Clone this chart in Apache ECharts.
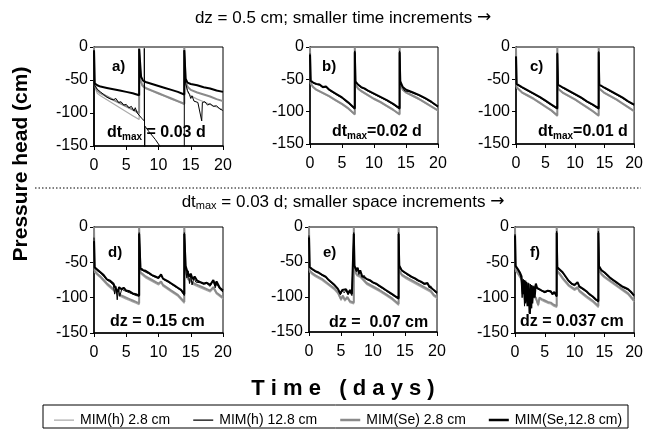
<!DOCTYPE html>
<html>
<head>
<meta charset="utf-8">
<script src="https://cdn.jsdelivr.net/npm/echarts@6/dist/echarts.min.js"></script>
<style>
  html, body { margin: 0; padding: 0; background: #fff; }
  #chart { width: 646px; height: 434px; }
</style>
</head>
<body>
<div id="chart"></div>
<script>
// legend names, panel tags, axis ranges
const seriesNames = ['MIM(h) 2.8 cm', 'MIM(h) 12.8 cm', 'MIM(Se) 2.8 cm', 'MIM(Se,12.8 cm)'];
const panelTags = ['a)', 'b)', 'c)', 'd)', 'e)', 'f)'];
const dayRange = [0, 20, 5];
const headRange = [-150, 0, 50];

// panel a) dz = 0.5 cm, dtmax = 0.03 d   [day, pressure head cm]
const aH28 = [[0,0],[0.1,-60],[0.5,-70],[1,-74],[2,-80],[3,-86],[4,-92],[5,-98],[6,-104],[7,-110],[7,0],[7.2,-52],[7.5,-60],[8,-63],[9,-67],[10,-71],[11,-75],[12,-79],[13,-83],[14,-87],[14,0],[14.2,-56],[14.5,-68],[15,-74],[16,-79],[17,-83],[18,-87],[19,-91],[20,-95]];
const aH128 = [[0,-150],[0,-8],[0.1,-58],[0.5,-64],[1,-68],[1.5,-72],[2,-76],[2.3,-74],[2.6,-79],[3,-80],[3.4,-78],[3.8,-84],[4.2,-83],[4.6,-88],[5,-87],[5.4,-92],[5.8,-90],[6.2,-97],[6.4,-92],[6.7,-100],[7,-103],[7.4,-108],[7.8,-112],[7.8,-2],[7.85,-170],[7.9,-120],[8.5,-128],[9.5,-140],[10.2,-150],[11,-160],[14,-175],[14,-5],[14.2,-55],[14.5,-66],[14.8,-72],[15,-78],[15.2,-74],[15.5,-82],[15.8,-79],[16.1,-84],[16.4,-81],[16.7,-112],[16.8,-84],[17.2,-83],[17.6,-88],[18,-86],[18.5,-90],[19,-89],[19.5,-94],[20,-96]];
const aSe28 = [[0,0],[0.1,-58],[0.5,-66],[1,-70],[2,-75],[3,-80],[4,-85],[5,-90],[6,-95],[7,-100],[7,0],[7.2,-50],[7.5,-58],[8,-62],[9,-66],[10,-70],[11,-74],[12,-78],[13,-82],[14,-86],[14,0],[14.2,-52],[14.5,-60],[15,-65],[16,-69],[17,-72],[18,-75],[19,-79],[20,-82]];
const aSe128 = [[0,-5],[0.1,-55],[0.5,-58],[1,-60],[2,-62],[3,-64],[4,-66],[5,-68],[6,-70],[7,-73],[7,-3],[7.3,-45],[7.6,-51],[8,-53],[9,-56],[10,-59],[11,-62],[12,-65],[13,-68],[14,-72],[14,-5],[14.2,-48],[14.5,-54],[15,-56],[16,-58],[17,-61],[18,-63],[19,-66],[20,-68]];

// panel b) dtmax = 0.02 d
const bH28 = [[0,0],[0.1,-57],[0.5,-63],[1,-67],[2,-72],[3,-77],[4,-83],[5,-89],[6,-96],[7,-105],[7,0],[7.1,-59],[7.5,-65],[8,-69],[9,-75],[10,-81],[11,-86],[12,-92],[13,-98],[14,-105],[14,0],[14.1,-59],[14.5,-67],[15,-71],[16,-76],[17,-81],[18,-87],[19,-93],[20,-99]];
const bH128 = [[0,-10],[0.1,-53],[0.5,-56],[1,-58],[1.5,-59],[2,-63],[2.5,-62],[3,-67],[4,-73],[5,-79],[6,-87],[7,-96],[7,-6],[7.1,-54],[7.5,-59],[8,-63],[8.5,-65],[9,-68],[10,-73],[11,-78],[12,-83],[13,-89],[14,-96],[14,-6],[14.1,-54],[14.5,-63],[14.8,-68],[15,-66],[15.5,-69],[16,-71],[17,-75],[18,-80],[19,-86],[20,-93]];
const bSe28 = [[0,0],[0.1,-56],[0.5,-62],[1,-66],[2,-71],[3,-76],[4,-82],[5,-88],[6,-95],[7,-104],[7,0],[7.1,-58],[7.5,-64],[8,-68],[9,-74],[10,-80],[11,-85],[12,-91],[13,-97],[14,-104],[14,0],[14.1,-58],[14.5,-66],[15,-70],[16,-75],[17,-80],[18,-86],[19,-92],[20,-98]];
const bSe128 = [[0,-12],[0.1,-52],[0.5,-55],[1,-57],[1.5,-58],[2,-62],[2.5,-61],[3,-66],[4,-72],[5,-78],[6,-86],[7,-95],[7,-8],[7.1,-53],[7.5,-58],[8,-62],[8.5,-64],[9,-67],[10,-72],[11,-77],[12,-82],[13,-88],[14,-95],[14,-8],[14.1,-53],[14.5,-62],[15,-66],[15.5,-68],[16,-70],[17,-74],[18,-79],[19,-85],[20,-92]];

// panel c) dtmax = 0.01 d
const cH28 = [[0,0],[0.1,-63],[1,-71],[2,-76],[3,-81],[4,-87],[5,-93],[6,-99],[7,-107],[7,0],[7.1,-65],[8,-72],[9,-77],[10,-82],[11,-88],[12,-94],[13,-100],[14,-107],[14,0],[14.1,-65],[15,-72],[16,-77],[17,-82],[18,-88],[19,-94],[20,-100]];
const cH128 = [[0,-14],[0.1,-58],[1,-63],[2,-68],[3,-73],[4,-78],[5,-84],[6,-90],[7,-96],[7,-9],[7.1,-59],[8,-64],[9,-69],[10,-74],[11,-79],[12,-85],[13,-90],[14,-96],[14,-7],[14.1,-59],[15,-64],[16,-69],[17,-74],[18,-79],[19,-85],[20,-90]];
const cSe28 = [[0,0],[0.1,-62],[1,-70],[2,-75],[3,-80],[4,-86],[5,-92],[6,-98],[7,-106],[7,0],[7.1,-64],[8,-71],[9,-76],[10,-81],[11,-87],[12,-93],[13,-99],[14,-106],[14,0],[14.1,-64],[15,-71],[16,-76],[17,-81],[18,-87],[19,-93],[20,-99]];
const cSe128 = [[0,-15],[0.1,-57],[1,-62],[2,-67],[3,-72],[4,-77],[5,-83],[6,-89],[7,-95],[7,-10],[7.1,-58],[8,-63],[9,-68],[10,-73],[11,-78],[12,-84],[13,-89],[14,-95],[14,-8],[14.1,-58],[15,-63],[16,-68],[17,-73],[18,-78],[19,-84],[20,-89]];

// panel d) dz = 0.15 cm
const dH28 = [[0,0],[0.1,-64],[0.5,-68],[1,-72],[1.5,-77],[2,-82],[2.5,-86],[3,-90],[3.5,-94],[4,-98],[4.5,-100],[5,-102],[5.5,-104],[6,-106],[6.5,-108],[7,-110],[7,0],[7.2,-66],[7.6,-69],[8,-72],[9,-77],[10,-82],[10.4,-79],[10.7,-84],[11,-86],[12,-92],[13,-98],[14,-108],[14,0],[14.2,-64],[14.5,-74],[15,-78],[15.5,-82],[16,-84],[17,-88],[18,-92],[18.5,-87],[19,-95],[20,-102]];
const dH128 = [[0,-15],[0.1,-58],[0.5,-62],[1,-65],[1.5,-70],[2,-75],[2.5,-78],[3,-82],[3.2,-95],[3.4,-84],[3.6,-103],[3.8,-86],[4,-98],[4.3,-88],[4.7,-90],[5,-89],[5.5,-93],[6,-95],[6.5,-97],[7,-98],[7,-8],[7.2,-60],[7.6,-62],[8,-64],[8.5,-66],[9,-69],[9.5,-71],[10,-73],[10.4,-68],[10.7,-74],[11,-76],[11.5,-78],[12,-81],[12.5,-84],[13,-87],[13.5,-90],[14,-97],[14,-8],[14.2,-58],[14.4,-72],[14.6,-62],[14.8,-80],[15,-68],[15.2,-82],[15.5,-72],[15.8,-78],[16,-77],[16.5,-79],[17,-81],[17.5,-80],[18,-84],[18.5,-76],[18.8,-86],[19,-80],[19.5,-88],[20,-92]];
const dSe28 = [[0,0],[0.1,-62],[0.5,-66],[1,-70],[1.5,-75],[2,-80],[2.5,-84],[3,-88],[3.5,-92],[4,-96],[4.5,-98],[5,-100],[5.5,-102],[6,-104],[6.5,-106],[7,-108],[7,0],[7.2,-64],[7.6,-67],[8,-70],[9,-75],[10,-80],[10.4,-77],[10.7,-82],[11,-84],[12,-90],[13,-96],[14,-106],[14,0],[14.2,-62],[14.5,-72],[15,-76],[15.5,-80],[16,-82],[17,-86],[18,-90],[18.5,-85],[19,-93],[20,-100]];
const dSe128 = [[0,-20],[0.1,-57],[0.5,-60],[1,-64],[1.5,-68],[2,-74],[2.5,-76],[3,-80],[3.3,-86],[3.5,-84],[3.7,-92],[3.9,-85],[4.2,-88],[4.6,-86],[5,-90],[5.5,-91],[6,-94],[6.5,-95],[7,-97],[7,-10],[7.2,-58],[7.6,-61],[8,-62],[8.5,-65],[9,-68],[9.5,-70],[10,-72],[10.4,-67],[10.7,-73],[11,-75],[11.5,-77],[12,-80],[12.5,-83],[13,-86],[13.5,-89],[14,-95],[14,-10],[14.2,-55],[14.5,-64],[14.8,-70],[15,-66],[15.3,-74],[15.6,-70],[16,-76],[16.5,-78],[17,-80],[17.5,-79],[18,-82],[18.5,-75],[18.8,-83],[19,-77],[19.5,-86],[20,-90]];

// panel e) dz = 0.07 cm
const eH28 = [[0,0],[0.1,-64],[0.5,-68],[1,-71],[2,-76],[3,-83],[4,-90],[4.5,-95],[5,-105],[5.3,-100],[5.6,-106],[6,-102],[6.4,-108],[7,-110],[7,0],[7.1,-64],[7.5,-70],[8,-72],[9,-82],[10,-87],[11,-92],[12,-98],[13,-104],[14,-112],[14,0],[14.1,-64],[14.5,-70],[15,-73],[16,-78],[17,-83],[18,-88],[19,-93],[19.5,-99],[20,-102]];
const eH128 = [[0,-12],[0.1,-58],[0.5,-61],[1,-64],[1.5,-66],[2,-69],[2.3,-67],[2.6,-72],[3,-76],[3.5,-80],[4,-84],[4.5,-89],[4.9,-97],[5.2,-91],[5.5,-94],[5.8,-90],[6.1,-97],[6.4,-92],[6.7,-98],[7,-98],[7,-8],[7.1,-56],[7.4,-64],[7.6,-59],[7.8,-68],[8,-63],[8.3,-72],[8.6,-69],[9,-75],[9.5,-77],[10,-80],[10.5,-82],[11,-85],[11.5,-88],[12,-91],[12.5,-94],[13,-97],[13.5,-100],[14,-103],[14,-8],[14.1,-56],[14.5,-63],[15,-66],[15.5,-69],[16,-72],[16.5,-74],[17,-77],[17.5,-79],[18,-82],[18.5,-81],[18.8,-87],[19,-84],[19.5,-91],[20,-95]];
const eSe28 = [[0,0],[0.1,-62],[0.5,-66],[1,-69],[2,-74],[3,-81],[4,-88],[4.5,-93],[5,-103],[5.3,-98],[5.6,-104],[6,-100],[6.4,-106],[7,-108],[7,0],[7.1,-62],[7.5,-68],[8,-70],[9,-80],[10,-85],[11,-90],[12,-96],[13,-102],[14,-110],[14,0],[14.1,-62],[14.5,-68],[15,-71],[16,-76],[17,-81],[18,-86],[19,-91],[19.5,-97],[20,-100]];
const eSe128 = [[0,-15],[0.1,-57],[0.5,-60],[1,-63],[1.5,-65],[2,-68],[2.3,-66],[2.6,-71],[3,-75],[3.5,-79],[4,-83],[4.5,-88],[4.9,-95],[5.2,-90],[5.5,-92],[5.8,-89],[6.1,-95],[6.4,-90],[6.7,-96],[7,-97],[7,-10],[7.1,-55],[7.4,-62],[7.6,-58],[7.8,-66],[8,-62],[8.3,-70],[8.6,-68],[9,-74],[9.5,-76],[10,-79],[10.5,-81],[11,-84],[11.5,-87],[12,-90],[12.5,-93],[13,-96],[13.5,-99],[14,-102],[14,-10],[14.1,-55],[14.5,-62],[15,-65],[15.5,-68],[16,-71],[16.5,-73],[17,-76],[17.5,-78],[18,-81],[18.5,-80],[18.8,-85],[19,-83],[19.5,-90],[20,-94]];

// panel f) dz = 0.037 cm
const fH28 = [[0,0],[0.1,-62],[0.5,-67],[1,-74],[1.5,-82],[2,-88],[2.5,-94],[3,-98],[3.5,-102],[3.9,-112],[4.1,-102],[4.5,-104],[5,-106],[5.5,-108],[6,-109],[6.5,-112],[7,-114],[7,0],[7.1,-64],[7.5,-68],[8,-74],[9,-84],[10,-90],[10.5,-87],[10.8,-92],[11,-94],[12,-100],[13,-106],[14,-114],[14,0],[14.1,-62],[14.5,-68],[15,-72],[16,-78],[17,-84],[18,-90],[19,-96],[20,-106]];
const fH128 = [[0,-10],[0.1,-56],[0.5,-61],[0.8,-66],[1,-72],[1.2,-100],[1.4,-74],[1.6,-112],[1.8,-76],[2,-105],[2.2,-79],[2.4,-122],[2.6,-81],[2.8,-115],[3,-83],[3.2,-95],[3.4,-82],[3.8,-88],[4.2,-89],[4.6,-91],[5,-93],[5.5,-91],[6,-92],[6.3,-96],[6.6,-93],[7,-99],[7,-6],[7.1,-58],[7.5,-61],[8,-65],[8.5,-71],[9,-77],[9.5,-81],[10,-83],[10.5,-79],[10.8,-85],[11,-86],[11.5,-89],[12,-92],[12.5,-96],[13,-99],[13.5,-103],[14,-106],[14,-6],[14.1,-56],[14.5,-62],[15,-65],[15.5,-69],[16,-73],[16.5,-76],[17,-79],[17.5,-82],[18,-85],[18.5,-87],[19,-89],[19.5,-93],[20,-98]];
const fSe28 = [[0,0],[0.1,-60],[0.5,-65],[1,-72],[1.5,-80],[2,-86],[2.5,-92],[3,-96],[3.5,-100],[3.9,-110],[4.1,-100],[4.5,-102],[5,-104],[5.5,-106],[6,-107],[6.5,-110],[7,-112],[7,0],[7.1,-62],[7.5,-66],[8,-72],[9,-82],[10,-88],[10.5,-85],[10.8,-90],[11,-92],[12,-98],[13,-104],[14,-112],[14,0],[14.1,-60],[14.5,-66],[15,-70],[16,-76],[17,-82],[18,-88],[19,-94],[20,-104]];
const fSe128 = [[0,-12],[0.1,-55],[0.5,-60],[0.8,-64],[1.1,-70],[1.3,-95],[1.5,-75],[1.7,-108],[1.9,-78],[2.1,-112],[2.3,-80],[2.5,-123],[2.7,-82],[2.9,-108],[3.1,-84],[3.3,-100],[3.5,-80],[3.7,-86],[4,-88],[4.5,-90],[5,-92],[5.5,-90],[6,-91],[6.3,-95],[6.6,-92],[7,-98],[7,-8],[7.1,-57],[7.5,-60],[8,-64],[8.5,-70],[9,-76],[9.5,-80],[10,-82],[10.5,-78],[10.8,-84],[11,-85],[11.5,-88],[12,-91],[12.5,-95],[13,-98],[13.5,-102],[14,-105],[14,-8],[14.1,-55],[14.5,-61],[15,-64],[15.5,-68],[16,-72],[16.5,-75],[17,-78],[17.5,-81],[18,-84],[18.5,-86],[19,-88],[19.5,-92],[20,-97]];

const panels = [
  [aH28, aH128, aSe28, aSe128],
  [bH28, bH128, bSe28, bSe128],
  [cH28, cH128, cSe28, cSe128],
  [dH28, dH128, dSe28, dSe128],
  [eH28, eH128, eSe28, eSe128],
  [fH28, fH128, fSe28, fSe128]
];

const FONT = '"Liberation Sans", Arial, sans-serif';

const grids = [
  { left: 94, top: 47, width: 129, height: 99 },
  { left: 310, top: 47, width: 128, height: 97 },
  { left: 516, top: 47, width: 122, height: 97 },
  { left: 94, top: 227, width: 129, height: 106 },
  { left: 309, top: 227, width: 128, height: 105 },
  { left: 515, top: 227, width: 123, height: 106 }
];

// line look per series (same order as seriesNames)
const looks = [
  { color: '#ababab', width: 1.2, z: 2 },
  { color: '#000000', width: 1, z: 4 },
  { color: '#8a8a8a', width: 2, z: 3 },
  { color: '#000000', width: 2, z: 5 }
];
// legend swatches: a bar inside a fixed 20x5 box, thin or thick
const thinBar = 'path://M0,0L20,0L20,0ZM0,2L20,2L20,3.2L0,3.2ZM0,5L20,5L20,5Z';
const thickBar = 'path://M0,0L20,0L20,0ZM0,1.3L20,1.3L20,3.7L0,3.7ZM0,5L20,5L20,5Z';
const swatches = [thinBar, thinBar, thickBar, thickBar];

const xAxes = [], yAxes = [], series = [];
grids.forEach((g, i) => {
  g.show = true;
  g.borderColor = '#000';
  g.borderWidth = 1;
  g.backgroundColor = '#fff';
  xAxes.push({
    type: 'value', gridIndex: i,
    min: dayRange[0], max: dayRange[1], interval: dayRange[2],
    axisLine: { onZero: false, lineStyle: { color: '#000', width: 1.5 } },
    axisTick: { length: 4, lineStyle: { color: '#000' } },
    axisLabel: { color: '#000', fontSize: 16, fontFamily: FONT, margin: 12 },
    splitLine: { show: false }
  });
  yAxes.push({
    type: 'value', gridIndex: i,
    min: headRange[0], max: headRange[1], interval: headRange[2],
    axisLine: { show: true, lineStyle: { color: '#000', width: 1.5 } },
    axisTick: { show: true, length: 4, lineStyle: { color: '#000' } },
    axisLabel: { color: '#000', fontSize: 16, fontFamily: FONT, margin: 6 },
    splitLine: { show: false }
  });
  panels[i].forEach((data, k) => {
    series.push({
      name: seriesNames[k],
      type: 'line',
      xAxisIndex: i, yAxisIndex: i,
      data: data,
      symbol: 'none',
      z: looks[k].z,
      color: looks[k].color,
      lineStyle: { color: looks[k].color, width: looks[k].width },
      clip: true
    });
  });
});

const tagPos = [[112, 67], [322, 67], [530, 67], [108, 253], [323, 253], [530, 253]];
const subRich = {
  n: { fontSize: 16, fontWeight: 'bold', fontFamily: FONT, lineHeight: 18, verticalAlign: 'middle' },
  s: { fontSize: 10, fontWeight: 'bold', fontFamily: FONT, lineHeight: 12, verticalAlign: 'bottom', padding: [4, 0, 0, 0] }
};
const notes = [
  { x: 107, y: 133, text: '{n|dt}{s|max}{n| = 0.03 d}' },
  { x: 332, y: 132, text: '{n|dt}{s|max}{n|=0.02 d}' },
  { x: 538, y: 132, text: '{n|dt}{s|max}{n|=0.01 d}' },
  { x: 110, y: 322, text: '{n|dz = 0.15 cm}' },
  { x: 329, y: 323, text: '{n|dz =  0.07 cm}' },
  { x: 520, y: 322, text: '{n|dz = 0.037 cm}' }
];

const graphics = [];
tagPos.forEach((p, i) => {
  graphics.push({
    type: 'text', x: p[0], y: p[1], z: 50,
    style: { text: panelTags[i], font: 'bold 15px ' + FONT, fill: '#000', textVerticalAlign: 'middle' }
  });
});
notes.forEach(n => {
  graphics.push({
    type: 'text', x: n.x, y: n.y, z: 50,
    style: { text: n.text, rich: subRich, fill: '#000', textVerticalAlign: 'middle' }
  });
});
const titleRich = {
  n: { fontSize: 17, fontFamily: FONT, lineHeight: 19, verticalAlign: 'middle' },
  s: { fontSize: 11, fontFamily: FONT, lineHeight: 13, verticalAlign: 'bottom', padding: [4, 0, 0, 0] },
  ar: { fontSize: 17, fontFamily: '"DejaVu Sans", sans-serif', lineHeight: 19, verticalAlign: 'middle' }
};
graphics.push(
  {
    type: 'text', x: 343, y: 18,
    style: { text: '{n|dz = 0.5 cm; smaller time increments }{ar|\u2192}', rich: titleRich, fill: '#000', textAlign: 'center', textVerticalAlign: 'middle' }
  },
  {
    type: 'line', shape: { x1: 35, y1: 188, x2: 641, y2: 188 },
    style: { stroke: '#000', lineWidth: 1, lineDash: [1.5, 2] }
  },
  {
    type: 'text', x: 343, y: 202,
    style: { text: '{n|dt}{s|max}{n| = 0.03 d; smaller space increments }{ar|\u2192}', rich: titleRich, fill: '#000', textAlign: 'center', textVerticalAlign: 'middle' }
  },
  {
    type: 'text', x: 21, y: 164, rotation: Math.PI / 2,
    style: { text: 'Pressure head (cm)', font: 'bold 21px ' + FONT, fill: '#000', textAlign: 'center', textVerticalAlign: 'middle' }
  },
  {
    type: 'text', x: 343, y: 389,
    style: { text: 'T\u2008i\u2008m\u2008e\u2008 \u2008(\u2008d\u2008a\u2008y\u2008s\u2008)', font: 'bold 22px ' + FONT, fill: '#000', textAlign: 'center', textVerticalAlign: 'middle' }
  },
  {
    type: 'rect', shape: { x: 43, y: 405, width: 585, height: 23 },
    style: { fill: 'none', stroke: '#000', lineWidth: 1 }
  }
);

const chart = echarts.init(document.getElementById('chart'));
chart.setOption({
  animation: false,
  backgroundColor: '#fff',
  grid: grids,
  xAxis: xAxes,
  yAxis: yAxes,
  series: series,
  legend: {
    data: seriesNames.map((n, k) => ({ name: n, icon: swatches[k] })),
    left: 49, top: 408,
    itemWidth: 22, itemHeight: 5, itemGap: 23,
    itemStyle: { borderWidth: 0 },
    textStyle: { color: '#000', fontSize: 14, fontFamily: FONT },
    selectedMode: false
  },
  graphic: graphics
});
</script>
</body>
</html>
